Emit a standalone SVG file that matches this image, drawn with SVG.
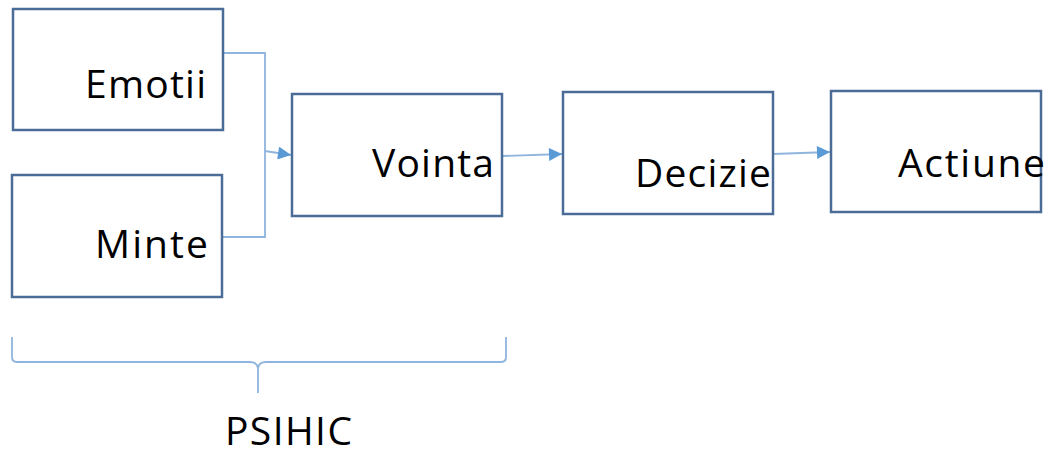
<svg xmlns="http://www.w3.org/2000/svg" width="1047" height="450" viewBox="0 0 1047 450">
<style>
.box{fill:#fff;stroke:#4a6c97;stroke-width:2.5}
.lbl{font-family:"Open Sans","Liberation Sans",sans-serif;font-size:39px;fill:#000}
.con{fill:none;stroke:#8fb4dd;stroke-width:1.8}
</style>
<defs>
<marker id="ah" viewBox="0 0 10 10" refX="10" refY="5" markerWidth="14" markerHeight="13" markerUnits="userSpaceOnUse" orient="auto"><path d="M0,0 L10,5 L0,10 z" fill="#5b9bd5"/></marker>
</defs>
<rect width="1047" height="450" fill="#fff"/>
<g id="connectors">
<path class="con" d="M223,53 H265 V237 H222"/>
<path class="con" d="M265,151 L291,155" marker-end="url(#ah)"/>
<path class="con" d="M502,156 L562,154" marker-end="url(#ah)"/>
<path class="con" d="M773,154 L830,152" marker-end="url(#ah)"/>
</g>
<g id="emotii"><rect class="box" x="13" y="9" width="210" height="121"/><text class="lbl" x="85" y="98" textLength="121">Emotii</text></g>
<g id="minte"><rect class="box" x="12" y="175" width="210" height="122"/><text class="lbl" x="95" y="258" textLength="113">Minte</text></g>
<g id="vointa"><rect class="box" x="292" y="94" width="210" height="122"/><text class="lbl" x="372" y="177" textLength="122">Vointa</text></g>
<g id="decizie"><rect class="box" x="563" y="92" width="210" height="122"/><text class="lbl" x="635" y="187" textLength="136">Decizie</text></g>
<g id="actiune"><rect class="box" x="831" y="91" width="210" height="121"/><text class="lbl" x="898" y="177" textLength="147">Actiune</text></g>
<g id="psihic">
<path class="con" d="M12,337 V357 Q12,362 17,362 H250 Q257,362 258,368 V393 M258,368 Q259,362 266,362 H501 Q506,362 506,357 V337"/>
<text class="lbl" x="225" y="445" textLength="127">PSIHIC</text>
</g>
</svg>
